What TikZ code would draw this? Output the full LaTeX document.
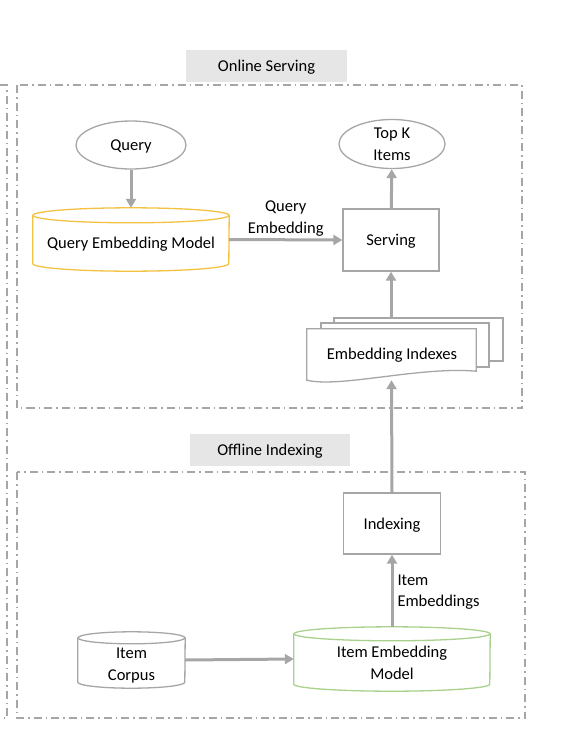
\documentclass[tikz,border=0pt]{standalone}
\usepackage{fontspec}
\setmainfont{Carlito}
\usepackage{tikz}
\usetikzlibrary{positioning}
\usetikzlibrary{shapes.geometric,arrows.meta}
\definecolor{boxgray}{HTML}{A6A6A6}
\definecolor{tabgray}{HTML}{E7E6E6}
\definecolor{qyellow}{HTML}{F4C242}
\definecolor{igreen}{HTML}{A9D18E}
\tikzset{
  every node/.style={font=\fontsize{16.5}{21.5}\selectfont, inner sep=0, text depth=0pt},
  frame/.style={draw=boxgray, line width=1.2pt, dash pattern=on 8pt off 4pt on 1.5pt off 4pt},
  tab/.style={fill=tabgray, minimum height=32pt},
  oval/.style={ellipse, draw=boxgray, line width=1.3pt},
  proc/.style={rectangle, draw=boxgray, line width=1.3pt, fill=white},
  sheet/.style={rectangle, draw=boxgray, line width=1.3pt, fill=white},
  db/.style={rectangle, align=center},
  flow/.style={draw=boxgray, line width=3pt, -{Triangle[length=9pt,width=10pt]}}
}
\newcommand{\cyl}[4]{%
  \draw[#2, line width=1.3pt, fill=white]
    ([yshift=-#4]#1.north west) -- ([yshift=#4]#1.south west)
    arc[start angle=180, end angle=360, x radius=#3, y radius=#4]
    -- ([yshift=-#4]#1.north east);
  \draw[#2, line width=1.3pt] ([yshift=-#4]#1.north) ellipse [x radius=#3, y radius=#4];
}

\begin{document}
\begin{tikzpicture}[x=1pt,y=-1pt]
  \useasboundingbox (0,0) rectangle (576,750);
  \draw[frame] (0,85) -- (7,85) -- (7,718) -- (0,718);
  \draw[frame] (17,85) rectangle (522,408);
  \draw[frame] (17,472) rectangle (525,718);
  \node[tab, minimum width=161pt] (ontab) at (266.5,66) {Online Serving};
  \node[tab, minimum width=160pt] (offtab) at (270,449.5) {Offline Indexing};

  \node[oval, minimum width=110pt, minimum height=48pt] (query) at (131,145) {Query};
  \node[db, minimum width=196pt, minimum height=63pt] (qem) at (131,239.5) {};
  \cyl{qem}{qyellow}{98pt}{7.5pt}
  \node at (131,243) {Query Embedding Model};
  \node[proc, minimum width=96pt, minimum height=62pt] (serving) at (391,240) {Serving};
  \node[oval, minimum width=106pt, minimum height=49pt, align=center] (topk) at (392,144) {Top K\\Items};

  \node[sheet, minimum width=169pt, minimum height=43pt] (idxb) at (418.5,339.5) {};
  \node[sheet, minimum width=168pt, minimum height=44pt] (idxm) at (405,345) {};
  \node[minimum width=169pt, minimum height=51pt] (idx) at (391.5,354.5) {};
  \draw[boxgray, line width=1.3pt, fill=white] (idx.north west) -- (idx.north east)
    -- ([yshift=9pt]idx.south east)
    .. controls ([xshift=28.5pt,yshift=14pt]idx.south) and ([xshift=-51.5pt,yshift=-8pt]idx.south) .. (idx.south west)
    -- cycle;
  \node at (392,354) {Embedding Indexes};

  \node[proc, minimum width=97pt, minimum height=61pt] (indexing) at (392,523.5) {Indexing};
  \node[db, minimum width=196pt, minimum height=64pt] (iem) at (392,659) {};
  \cyl{iem}{igreen}{98pt}{7pt}
  \node[align=center] at (392,663) {Item Embedding\\Model};
  \node[db, minimum width=107pt, minimum height=56pt] (corpus) at (131.5,660) {};
  \cyl{corpus}{boxgray}{53.5pt}{6pt}
  \node[align=center] at (131.5,664) {Item\\Corpus};

  \draw[flow] (query) -- (qem.north);
  \draw[flow] (qem.east) -- node[above=5pt, align=center] {Query\\Embedding} (serving.west);
  \draw[flow] (serving) -- (topk);
  \draw[flow] (serving.south |- idxb.north) -- (serving.south);
  \draw[flow] (indexing.north) -- (idx.south);
  \draw[flow] (iem.north) -- node[right=4pt, align=left] {Item\\Embeddings} (indexing.south);
  \draw[flow] (corpus.east) -- (iem.west);
\end{tikzpicture}
\end{document}
